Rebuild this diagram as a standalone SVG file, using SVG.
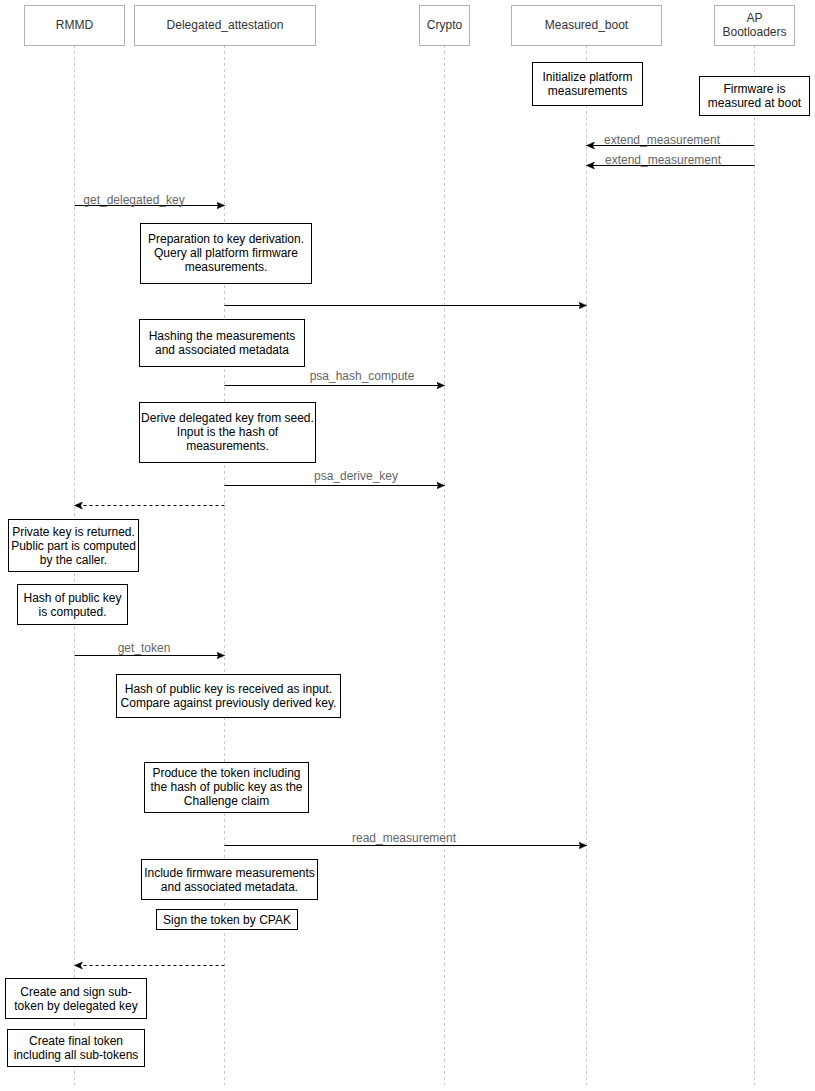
<svg xmlns="http://www.w3.org/2000/svg" width="815" height="1091" viewBox="0 0 815 1091">
<style>
  .hdr rect { fill: #ffffff; stroke: #b3b3b3; stroke-width: 1; }
  .hdr text { font-family: "Liberation Sans", Arial, sans-serif; font-size: 12px; fill: #333333; text-anchor: middle; }
  .life { stroke: #c8c8c8; stroke-width: 1; stroke-dasharray: 3 3; fill: none; }
  .note rect { fill: #ffffff; stroke: #000000; stroke-width: 1; }
  .note text { font-family: "Liberation Sans", Arial, sans-serif; font-size: 12px; fill: #000000; text-anchor: middle; }
  .msg { stroke: #000000; stroke-width: 1; fill: none; marker-end: url(#arr); }
  .ret { stroke: #000000; stroke-width: 1; fill: none; stroke-dasharray: 3 3; marker-end: url(#arr); }
  .lbl { font-family: "Liberation Sans", Arial, sans-serif; font-size: 12px; fill: #666666; text-anchor: middle; }
</style>
<defs>
  <marker id="arr" markerUnits="userSpaceOnUse" markerWidth="10" markerHeight="8" refX="8" refY="4" orient="auto">
    <path d="M0,0.5 L8,4 L0,7.5 L2,4 Z" fill="#000000" stroke="#000000" stroke-width="0.5"/>
  </marker>
</defs>
<rect width="815" height="1091" fill="#ffffff"/>

<g id="lifelines">
  <line class="life" x1="74.5" y1="45" x2="74.5" y2="1085"/>
  <line class="life" x1="224.5" y1="45" x2="224.5" y2="1085"/>
  <line class="life" x1="444.5" y1="45" x2="444.5" y2="1085"/>
  <line class="life" x1="586.5" y1="45" x2="586.5" y2="1085"/>
  <line class="life" x1="754.5" y1="45" x2="754.5" y2="1085"/>
</g>

<g id="rmmd" class="hdr">
  <rect x="24.5" y="5.5" width="100" height="40"/>
  <text x="74.5" y="29">RMMD</text>
</g>
<g id="delegated_attestation" class="hdr">
  <rect x="134.5" y="5.5" width="181" height="40"/>
  <text x="225" y="29">Delegated_attestation</text>
</g>
<g id="crypto" class="hdr">
  <rect x="419.5" y="5.5" width="50" height="40"/>
  <text x="444.5" y="29">Crypto</text>
</g>
<g id="measured_boot" class="hdr">
  <rect x="511.5" y="5.5" width="150" height="40"/>
  <text x="586.5" y="29">Measured_boot</text>
</g>
<g id="ap_bootloaders" class="hdr">
  <rect x="714.5" y="5.5" width="80" height="40"/>
  <text x="754.5" y="22">AP</text>
  <text x="754.5" y="36">Bootloaders</text>
</g>

<g id="note_init" class="note">
  <rect x="532.5" y="62.5" width="110" height="43"/>
  <text x="587.5" y="80.5">Initialize platform</text>
  <text x="587.5" y="94.5">measurements</text>
</g>
<g id="note_firmware" class="note">
  <rect x="699.5" y="76.5" width="110" height="39"/>
  <text x="754.5" y="92.5">Firmware is</text>
  <text x="754.5" y="106.5">measured at boot</text>
</g>
<g id="note_prep" class="note">
  <rect x="140.5" y="223.5" width="171" height="60"/>
  <text x="226" y="243">Preparation to key derivation.</text>
  <text x="226" y="257">Query all platform firmware</text>
  <text x="226" y="271">measurements.</text>
</g>
<g id="note_hash" class="note">
  <rect x="139.5" y="319.5" width="165" height="47"/>
  <text x="222" y="340">Hashing the measurements</text>
  <text x="222" y="354">and associated metadata</text>
</g>
<g id="note_derive" class="note">
  <rect x="139.5" y="402.5" width="176" height="60"/>
  <text x="227.5" y="422">Derive delegated key from seed.</text>
  <text x="227.5" y="436">Input is the hash of</text>
  <text x="227.5" y="450">measurements.</text>
</g>
<g id="note_private" class="note">
  <rect x="8.5" y="519.5" width="130" height="52"/>
  <text x="73.5" y="536">Private key is returned.</text>
  <text x="73.5" y="550">Public part is computed</text>
  <text x="73.5" y="564">by the caller.</text>
</g>
<g id="note_hashpub" class="note">
  <rect x="17.5" y="584.5" width="110" height="40"/>
  <text x="72.5" y="601.5">Hash of public key</text>
  <text x="72.5" y="615.5">is computed.</text>
</g>
<g id="note_received" class="note">
  <rect x="116.5" y="674.5" width="224" height="43"/>
  <text x="228.5" y="692.5">Hash of public key is received as input.</text>
  <text x="228.5" y="706.5">Compare against previously derived key.</text>
</g>
<g id="note_produce" class="note">
  <rect x="144.5" y="762.5" width="164" height="50"/>
  <text x="226.5" y="777">Produce the token including</text>
  <text x="226.5" y="791">the hash of public key as the</text>
  <text x="226.5" y="805">Challenge claim</text>
</g>
<g id="note_include" class="note">
  <rect x="141.5" y="859.5" width="176" height="40"/>
  <text x="229.5" y="876.5">Include firmware measurements</text>
  <text x="229.5" y="890.5">and associated metadata.</text>
</g>
<g id="note_sign" class="note">
  <rect x="156.5" y="909.5" width="141" height="20"/>
  <text x="227" y="923.5">Sign the token by CPAK</text>
</g>
<g id="note_subtoken" class="note">
  <rect x="5.5" y="978.5" width="141" height="40"/>
  <text x="76" y="995.5">Create and sign sub-</text>
  <text x="76" y="1009.5">token by delegated key</text>
</g>
<g id="note_final" class="note">
  <rect x="7.5" y="1029.5" width="137" height="37"/>
  <text x="76" y="1045">Create final token</text>
  <text x="76" y="1059">including all sub-tokens</text>
</g>

<g id="connectors">
  <line class="msg" x1="754.5" y1="145.5" x2="586.5" y2="145.5"/>
  <text class="lbl" x="662" y="144">extend_measurement</text>
  <line class="msg" x1="754.5" y1="165.5" x2="586.5" y2="165.5"/>
  <text class="lbl" x="663" y="164">extend_measurement</text>
  <line class="msg" x1="74.5" y1="205.5" x2="224.5" y2="205.5"/>
  <text class="lbl" x="134" y="204">get_delegated_key</text>
  <line class="msg" x1="224.5" y1="305.5" x2="586.5" y2="305.5"/>
  <line class="msg" x1="224.5" y1="385.5" x2="444.5" y2="385.5"/>
  <text class="lbl" x="362" y="380">psa_hash_compute</text>
  <line class="msg" x1="224.5" y1="485.5" x2="444.5" y2="485.5"/>
  <text class="lbl" x="356" y="480">psa_derive_key</text>
  <line class="ret" x1="224.5" y1="505.5" x2="74.5" y2="505.5"/>
  <line class="msg" x1="74.5" y1="655.5" x2="224.5" y2="655.5"/>
  <text class="lbl" x="144" y="652">get_token</text>
  <line class="msg" x1="224.5" y1="845.5" x2="586.5" y2="845.5"/>
  <text class="lbl" x="404" y="842">read_measurement</text>
  <line class="ret" x1="224.5" y1="965.5" x2="74.5" y2="965.5"/>
</g>
</svg>
